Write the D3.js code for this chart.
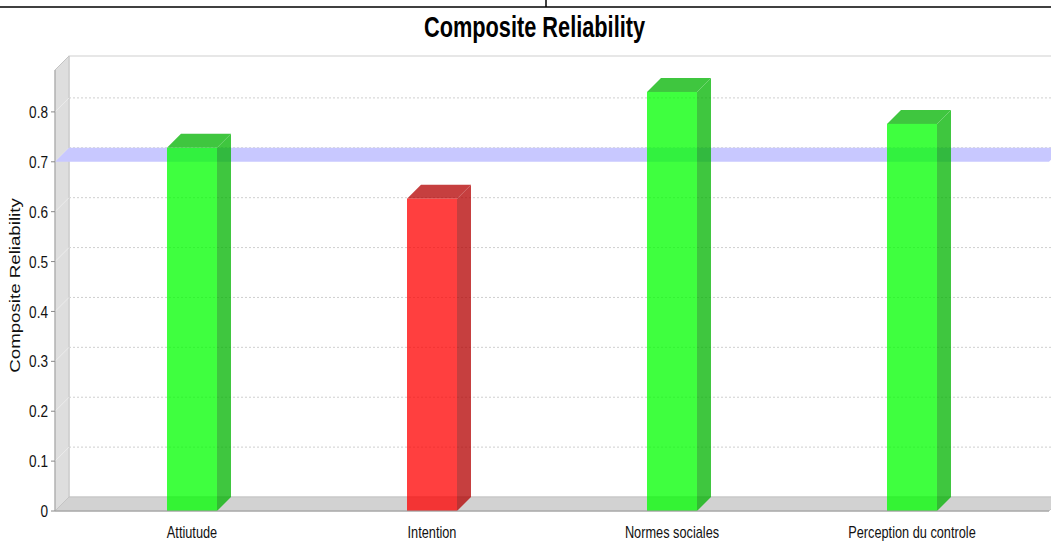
<!DOCTYPE html>
<html>
<head>
<meta charset="utf-8">
<script src="https://cdn.jsdelivr.net/npm/d3@7"></script>
<style>
  body { margin: 0; background: #fff; }
  svg { display: block; font-family: "Liberation Sans", Arial, sans-serif; }
</style>
</head>
<body>
<div id="chart"></div>
<script>
// values
var categories = ["Attiutude", "Intention", "Normes sociales", "Perception du controle"];
var values = [0.728, 0.626, 0.840, 0.776];
var threshold = 0.7;
var yTicks = [0, 0.1, 0.2, 0.3, 0.4, 0.5, 0.6, 0.7, 0.8];
var yMax = 0.884;

var width = 1051, height = 550;
var depth = 14;           // 3d offset, both x and y
var squeeze = 0.75;       // horizontal text squeeze seen in the picture
var plot = {left: 55, right: 1049, top: 70, bottom: 511};

var svg = d3.select("#chart").append("svg")
  .attr("width", width)
  .attr("height", height);

var x = d3.scaleBand()
  .domain(categories)
  .range([plot.left, plot.right])
  .paddingInner(0.7917)
  .paddingOuter(0.4667);

var y = d3.scaleLinear()
  .domain([0, yMax])
  .range([plot.bottom, plot.top]);

var poly = pts => pts.map(p => p.join(",")).join(" ");

// frame line at the top of the picture
svg.append("line").attr("x1", 0).attr("x2", width).attr("y1", 7).attr("y2", 7)
  .attr("stroke", "#000").attr("stroke-width", 1.5);
svg.append("line").attr("x1", 546).attr("x2", 546).attr("y1", 0).attr("y2", 7)
  .attr("stroke", "#000").attr("stroke-width", 1.5);

// back wall
svg.append("rect")
  .attr("x", plot.left + depth).attr("y", plot.top - depth)
  .attr("width", plot.right - plot.left).attr("height", plot.bottom - plot.top)
  .attr("fill", "#fff").attr("stroke", "#cfcfcf");

// left wall and floor
svg.append("polygon")
  .attr("points", poly([[plot.left, plot.top], [plot.left + depth, plot.top - depth],
                        [plot.left + depth, plot.bottom - depth], [plot.left, plot.bottom]]))
  .attr("fill", "#dedede").attr("stroke", "#c4c4c4");
svg.append("polygon")
  .attr("points", poly([[plot.left, plot.bottom], [plot.left + depth, plot.bottom - depth],
                        [plot.right + depth, plot.bottom - depth], [plot.right, plot.bottom]]))
  .attr("fill", "#d2d2d2").attr("stroke", "#c4c4c4");

// gridlines on back wall + faint lines across the left wall
var grid = svg.append("g").attr("class", "grid");
grid.selectAll(".gl").data(yTicks.filter(d => d > 0))
  .join("line")
  .attr("class", "gl")
  .attr("x1", plot.left + depth).attr("x2", plot.right + depth)
  .attr("y1", d => y(d) - depth).attr("y2", d => y(d) - depth)
  .attr("stroke", "#cfcfcf").attr("stroke-dasharray", "2,2");
grid.selectAll(".wl").data(yTicks.filter(d => d > 0))
  .join("line")
  .attr("class", "wl")
  .attr("x1", plot.left).attr("x2", plot.left + depth)
  .attr("y1", d => y(d)).attr("y2", d => y(d) - depth)
  .attr("stroke", "#ececec");

// threshold marker, drawn as a plane
svg.append("polygon")
  .attr("points", poly([[plot.left, y(threshold)], [plot.left + depth, y(threshold) - depth],
                        [plot.right + depth, y(threshold) - depth], [plot.right, y(threshold)]]))
  .attr("fill", "#c8c8ff");

// bars
var bw = x.bandwidth();
var bars = svg.append("g").attr("class", "bars")
  .selectAll("g").data(categories.map((c, i) => ({cat: c, value: values[i]})))
  .join("g")
  .attr("opacity", 0.75);

var front = d => d.value >= threshold ? "#00ff00" : "#ff0000";
var dark = d => d.value >= threshold ? "#00b400" : "#b40000";

bars.append("polygon")
  .attr("points", d => {
    var x0 = x(d.cat) + bw, t = y(d.value);
    return poly([[x0, t], [x0 + depth, t - depth], [x0 + depth, plot.bottom - depth], [x0, plot.bottom]]);
  })
  .attr("fill", dark);
bars.append("polygon")
  .attr("points", d => {
    var x0 = x(d.cat), t = y(d.value);
    return poly([[x0, t], [x0 + depth, t - depth], [x0 + bw + depth, t - depth], [x0 + bw, t]]);
  })
  .attr("fill", dark);
bars.append("rect")
  .attr("x", d => x(d.cat))
  .attr("y", d => y(d.value))
  .attr("width", bw)
  .attr("height", d => plot.bottom - y(d.value))
  .attr("fill", front);

// y axis
var yAxis = svg.append("g").attr("class", "y-axis");
yAxis.append("line")
  .attr("x1", plot.left).attr("x2", plot.left)
  .attr("y1", plot.top).attr("y2", plot.bottom)
  .attr("stroke", "#a8a8a8");
yAxis.selectAll(".tick").data(yTicks)
  .join("line")
  .attr("class", "tick")
  .attr("x1", plot.left - 4).attr("x2", plot.left)
  .attr("y1", d => y(d)).attr("y2", d => y(d))
  .attr("stroke", "#888");
yAxis.selectAll(".tl").data(yTicks)
  .join("text")
  .attr("class", "tl")
  .attr("transform", d => `translate(${plot.left - 7},${y(d)}) scale(0.8,1)`)
  .attr("dy", "0.36em")
  .attr("text-anchor", "end")
  .attr("font-size", 17)
  .attr("fill", "#111")
  .text(d => d3.format(".1~f")(d));

// x axis
svg.append("line")
  .attr("x1", plot.left).attr("x2", plot.right)
  .attr("y1", plot.bottom).attr("y2", plot.bottom)
  .attr("stroke", "#9a9a9a");
svg.append("g").selectAll("text").data(categories)
  .join("text")
  .attr("transform", d => `translate(${x(d) + bw / 2},537.5) scale(${squeeze},1)`)
  .attr("text-anchor", "middle")
  .attr("font-size", 17)
  .attr("fill", "#111")
  .text(d => d);

// titles
svg.append("text")
  .attr("transform", `translate(534.5,37) scale(${squeeze},1)`)
  .attr("text-anchor", "middle")
  .attr("font-size", 29)
  .attr("font-weight", "bold")
  .attr("fill", "#000")
  .text("Composite Reliability");

svg.append("text")
  .attr("transform", `translate(20,285.5) scale(${squeeze},1) rotate(-90)`)
  .attr("text-anchor", "middle")
  .attr("font-size", 18.7)
  .attr("fill", "#111")
  .text("Composite Reliability");
</script>
</body>
</html>
